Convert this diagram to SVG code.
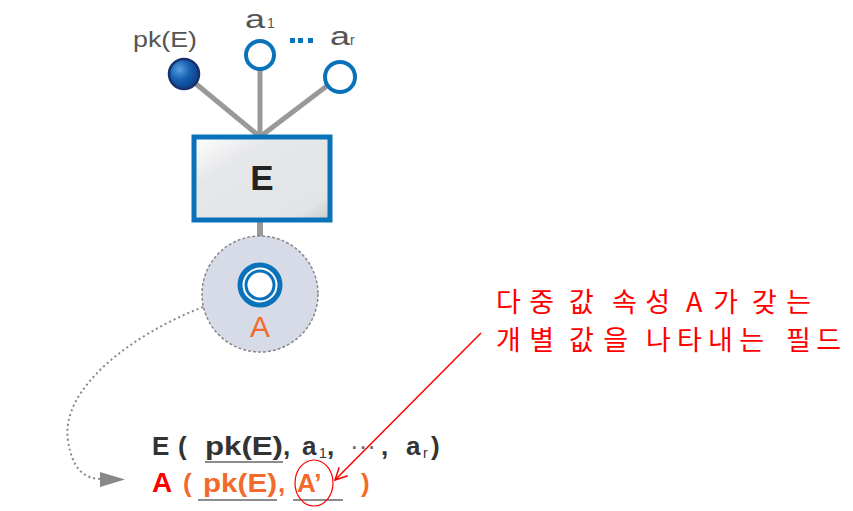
<svg xmlns="http://www.w3.org/2000/svg" width="853" height="511" viewBox="0 0 853 511">
<style>
.lbl{font-family:"Liberation Sans",Arial,sans-serif;fill:#555}
.sub{font-family:"Liberation Sans",Arial,sans-serif;fill:#555;font-size:14px}
.rel{font-family:"Liberation Sans",Arial,sans-serif;font-weight:bold;font-size:26px;fill:#333}
.rsub{font-family:"Liberation Sans",Arial,sans-serif;font-size:14px;fill:#333}
.relo{font-family:"Liberation Sans",Arial,sans-serif;font-weight:bold;font-size:26px;fill:#f26a2c}
.ko{font-family:"Noto Sans CJK KR","Noto Sans",sans-serif;font-size:27px;fill:#ff0000}
.stem{stroke:#999;stroke-width:5;fill:none}
.ul{stroke:#666;stroke-width:1.5}
</style>
<defs>
<radialGradient id="pkg" cx="0.35" cy="0.35" r="0.7">
<stop offset="0" stop-color="#5aa0e0"/>
<stop offset="0.5" stop-color="#1560b0"/>
<stop offset="1" stop-color="#0d3f85"/>
</radialGradient>
<linearGradient id="boxg" x1="0" y1="0" x2="1" y2="1">
<stop offset="0" stop-color="#ffffff"/>
<stop offset="0.3" stop-color="#e6e7e9"/>
<stop offset="0.85" stop-color="#e3e4e6"/>
<stop offset="1" stop-color="#c8c9cc"/>
</linearGradient>
<marker id="redhead" viewBox="0 0 14 14" refX="13" refY="7" markerWidth="14" markerHeight="14" markerUnits="userSpaceOnUse" orient="auto">
<polyline points="1,1 13,7 1,13" fill="none" stroke="#ff0000" stroke-width="1.5"/>
</marker>
</defs>

<g id="connectors">
<line class="stem" x1="184" y1="74" x2="259" y2="136"/>
<line class="stem" x1="260" y1="55" x2="260" y2="136"/>
<line class="stem" x1="340" y1="76" x2="261" y2="136"/>
<line x1="260" y1="220" x2="260" y2="266" stroke="#999" stroke-width="6"/>
<path d="M203 307 C130 335 60 390 68 440 C72 470 85 479 102 479" fill="none" stroke="#888" stroke-width="2" stroke-dasharray="2 3"/>
<polygon points="100,472 125,479.5 100,487" fill="#888"/>
<line x1="481" y1="333" x2="335" y2="480" stroke="#ff0000" stroke-width="1.5" marker-end="url(#redhead)"/>
</g>

<g id="pk">
<circle cx="184" cy="74" r="15" fill="url(#pkg)" stroke="#1a2f6e" stroke-width="2.5"/>
<text class="lbl" x="133" y="47" font-size="22" textLength="64" lengthAdjust="spacingAndGlyphs">pk(E)</text>
</g>

<g id="a1">
<circle cx="260" cy="55" r="14" fill="#fff" stroke="#0a72ba" stroke-width="4"/>
<text class="lbl" x="245" y="28" font-size="26" textLength="20" lengthAdjust="spacingAndGlyphs">a</text>
<text class="sub" x="267" y="28">1</text>
</g>

<g id="dots" fill="#0a72ba">
<rect x="290" y="38" width="5" height="5"/>
<rect x="298" y="38" width="5" height="5"/>
<rect x="308" y="38" width="5" height="5"/>
</g>

<g id="ar">
<circle cx="340" cy="77" r="15" fill="#fff" stroke="#0a72ba" stroke-width="4"/>
<text class="lbl" x="330" y="45" font-size="26" textLength="20" lengthAdjust="spacingAndGlyphs">a</text>
<text class="sub" x="350" y="45">r</text>
</g>

<g id="E">
<rect x="194" y="137" width="136" height="83" fill="url(#boxg)" stroke="#0a72ba" stroke-width="5"/>
<text x="262" y="190" text-anchor="middle" font-family="'Liberation Sans',Arial,sans-serif" font-size="35" font-weight="bold" fill="#222">E</text>
</g>

<g id="A">
<circle cx="260" cy="294" r="58" fill="#d6dbe7" stroke="#888" stroke-width="1.5" stroke-dasharray="3 2"/>
<circle cx="260" cy="285" r="20" fill="#fff" stroke="#0a72ba" stroke-width="5"/>
<circle cx="260" cy="285" r="14" fill="#fff" stroke="#0a72ba" stroke-width="3"/>
<text x="260" y="337" text-anchor="middle" font-family="'Liberation Sans',Arial,sans-serif" font-size="30" fill="#f26a2c">A</text>
</g>

<g id="relE">
<text class="rel" x="152" y="455">E</text>
<text class="rel" x="178" y="455">(</text>
<text class="rel" x="205" y="455" textLength="78" lengthAdjust="spacingAndGlyphs">pk(E)</text>
<text class="rel" x="283" y="455">,</text>
<text class="rel" x="302" y="455">a</text>
<text class="rsub" x="319" y="458">1</text>
<text class="rel" x="327" y="455">,</text>
<text class="rel" x="350" y="455" style="font-weight:normal;fill:#666">···</text>
<text class="rel" x="381" y="455">,</text>
<text class="rel" x="406" y="455">a</text>
<text class="rsub" x="423" y="458">r</text>
<text class="rel" x="431" y="455">)</text>
<line class="ul" x1="205" y1="462" x2="283" y2="462"/>
</g>

<g id="relA">
<text x="152" y="492" font-family="'Liberation Sans',Arial,sans-serif" font-weight="bold" font-size="28" fill="#ff0000">A</text>
<text class="relo" x="183" y="492">(</text>
<text class="relo" x="203" y="492" textLength="74" lengthAdjust="spacingAndGlyphs">pk(E)</text>
<text class="relo" x="278" y="492">,</text>
<text class="relo" x="297" y="492">A’</text>
<text class="relo" x="361" y="492">)</text>
<line class="ul" x1="198" y1="500" x2="277" y2="500"/>
<line class="ul" x1="293" y1="500" x2="343" y2="500"/>
<ellipse cx="314" cy="483" rx="19" ry="23" fill="none" stroke="#ff0000" stroke-width="1.2"/>
</g>

<g id="note" class="ko">
<text class="ko" x="496" y="312" textLength="58" lengthAdjust="spacing">다중</text>
<text class="ko" x="569" y="312">값</text>
<text class="ko" x="612" y="312" textLength="58" lengthAdjust="spacing">속성</text>
<text class="ko" x="686" y="312" textLength="52" lengthAdjust="spacing">A가</text>
<text class="ko" x="752" y="312" textLength="59" lengthAdjust="spacing">갖는</text>
<text class="ko" x="496" y="350" textLength="58" lengthAdjust="spacing">개별</text>
<text class="ko" x="569" y="350" textLength="59" lengthAdjust="spacing">값을</text>
<text class="ko" x="646" y="350" textLength="118" lengthAdjust="spacing">나타내는</text>
<text class="ko" x="786" y="350" textLength="55" lengthAdjust="spacing">필드</text>
</g>
</svg>
